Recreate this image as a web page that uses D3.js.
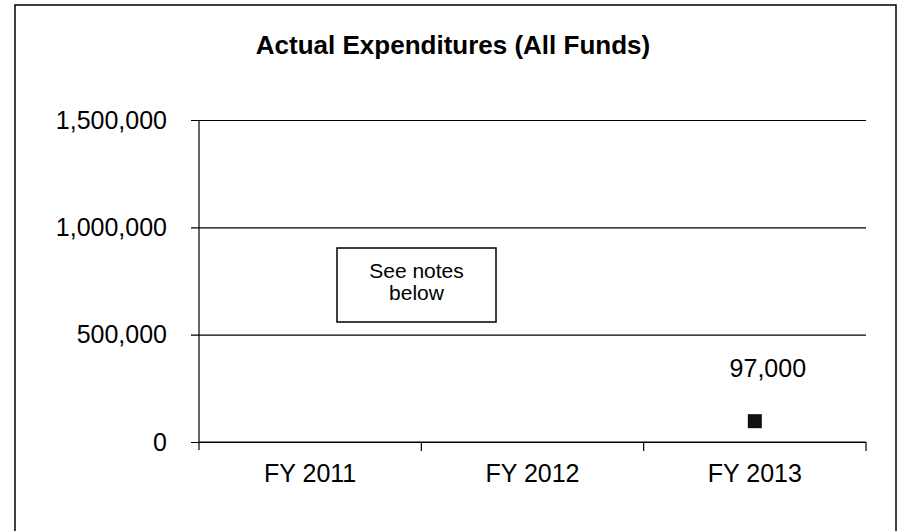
<!DOCTYPE html>
<html>
<head>
<meta charset="utf-8">
<script src="https://cdn.jsdelivr.net/npm/d3@7"></script>
<style>
  body { margin: 0; background: #fff; }
  text { font-family: "Liberation Sans", Arial, sans-serif; fill: #000; }
</style>
</head>
<body>
<svg id="chart" width="903" height="531"></svg>
<script>
const width = 903;
const height = 531;

// chart data
const categories = ["FY 2011", "FY 2012", "FY 2013"];
const expenditures = [null, null, 97000];
const yTicks = [0, 500000, 1000000, 1500000];
const title = "Actual Expenditures (All Funds)";
const noteLines = ["See notes", "below"];

const svg = d3.select("#chart");

// outer frame
svg.append("rect")
    .attr("x", 15)
    .attr("y", 5)
    .attr("width", 881)
    .attr("height", 540)
    .attr("fill", "none")
    .attr("stroke", "#000")
    .attr("stroke-width", 1.5);

const plot = { left: 199, right: 866, top: 120, bottom: 442 };

const x = d3.scaleBand()
    .domain(categories)
    .range([plot.left, plot.right])
    .padding(0);

const y = d3.scaleLinear()
    .domain([0, 1500000])
    .range([plot.bottom, plot.top]);

// title
svg.append("text")
    .attr("x", 453)
    .attr("y", 54)
    .attr("text-anchor", "middle")
    .attr("font-size", "26px")
    .attr("font-weight", "bold")
    .text(title);

// y axis with gridlines
const yAxis = d3.axisLeft(y)
    .tickValues(yTicks)
    .tickSize(-(plot.right - plot.left))
    .tickPadding(32)
    .tickFormat(d3.format(","));

const yg = svg.append("g")
    .attr("transform", `translate(${plot.left},0)`)
    .call(yAxis);

yg.select(".domain").remove();
yg.selectAll(".tick line")
    .attr("x1", -8)
    .attr("stroke", "#000")
    .attr("stroke-width", 1.2);
yg.selectAll(".tick text")
    .attr("font-size", "25px")
    .attr("font-family", "Liberation Sans, Arial, sans-serif")
    .attr("fill", "#000");

// vertical axis line
svg.append("line")
    .attr("x1", plot.left).attr("x2", plot.left)
    .attr("y1", plot.top).attr("y2", plot.bottom + 8)
    .attr("stroke", "#000")
    .attr("stroke-width", 1.2);

// x axis
const xg = svg.append("g")
    .attr("transform", `translate(0,${plot.bottom})`)
    .call(d3.axisBottom(x).tickSize(0).tickPadding(22));

xg.select(".domain")
    .attr("d", `M${plot.left},0H${plot.right}`)
    .attr("stroke", "#000")
    .attr("stroke-width", 1.2);
xg.selectAll(".tick text")
    .attr("font-size", "25px")
    .attr("font-family", "Liberation Sans, Arial, sans-serif")
    .attr("fill", "#000");

// tick marks at category boundaries
const bounds = categories.map(c => x(c) + x.bandwidth()).concat([x(categories[0])]);
svg.selectAll(".xtick")
    .data(bounds.filter(b => b !== plot.left))
    .enter()
    .append("line")
    .attr("class", "xtick")
    .attr("x1", d => d).attr("x2", d => d)
    .attr("y1", plot.bottom).attr("y2", plot.bottom + 9)
    .attr("stroke", "#000")
    .attr("stroke-width", 1.2);

// points
const points = categories
    .map((c, i) => ({ cat: c, value: expenditures[i] }))
    .filter(d => d.value != null);

svg.selectAll(".pt")
    .data(points)
    .enter()
    .append("rect")
    .attr("class", "pt")
    .attr("x", d => x(d.cat) + x.bandwidth() / 2 - 7)
    .attr("y", d => y(d.value) - 7)
    .attr("width", 14)
    .attr("height", 14)
    .attr("fill", "#111");

svg.selectAll(".pt-label")
    .data(points)
    .enter()
    .append("text")
    .attr("class", "pt-label")
    .attr("x", d => x(d.cat) + x.bandwidth() / 2 + 13)
    .attr("y", d => y(d.value) - 44)
    .attr("text-anchor", "middle")
    .attr("font-size", "25px")
    .text(d => d3.format(",")(d.value));

// notes box
const note = svg.append("g");
note.append("rect")
    .attr("x", 337)
    .attr("y", 248)
    .attr("width", 159)
    .attr("height", 74)
    .attr("fill", "#fff")
    .attr("stroke", "#000")
    .attr("stroke-width", 1.5);

note.selectAll("text")
    .data(noteLines)
    .enter()
    .append("text")
    .attr("x", 416.5)
    .attr("y", (d, i) => 278 + i * 22)
    .attr("text-anchor", "middle")
    .attr("font-size", "21px")
    .text(d => d);
</script>
</body>
</html>
